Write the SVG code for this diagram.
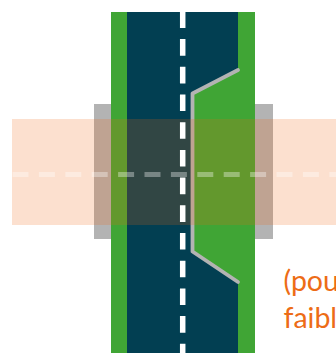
<svg xmlns="http://www.w3.org/2000/svg" width="336" height="353" viewBox="0 0 336 353">
<style>
.dash{fill:none;stroke:#fff;stroke-width:5.500;stroke-dasharray:16.6 11.1}
.hdash{fill:none;stroke:#fff;stroke-width:5;stroke-opacity:.35;stroke-dasharray:16 10.4}
.edge{fill:none;stroke:#b3b3b3;stroke-width:3.800;stroke-linejoin:round;stroke-linecap:round}
.t{font-family:Lato,"Open Sans",sans-serif;font-size:28.500px;fill:#ed6c16}
</style>
<rect x="94" y="104" width="179" height="135" fill="#b3b3b3"/>
<rect x="111" y="12" width="144" height="341" fill="#40a535"/>
<rect x="127" y="12" width="111" height="341" fill="#023f52"/>
<polygon points="238,70 192.500,93.500 192.500,251.500 238,282 238,353 255,353 255,12 238,12" fill="#40a535"/>
<path class="edge" d="M238 70L192.500 93.500V251.500L238 282"/>
<rect x="12" y="119" width="324" height="106" fill="#f0640f" fill-opacity=".2"/>
<path class="dash" d="M182.700 11.400V353"/>
<path class="hdash" d="M12.500 174.500H336"/>
<text class="t" x="283.500" y="291">(pou</text>
<text class="t" x="283.500" y="328">faibl</text>
</svg>
